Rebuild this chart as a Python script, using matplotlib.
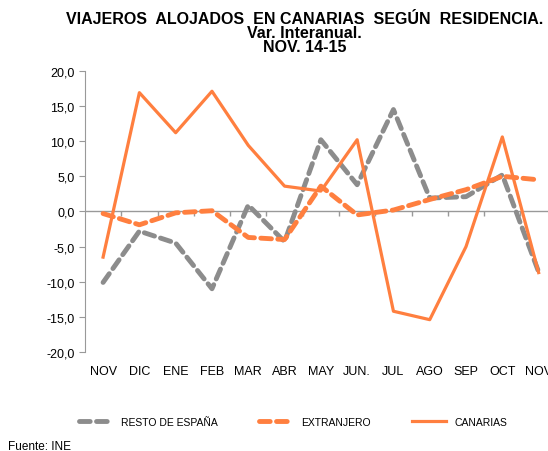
import matplotlib.pyplot as plt
import numpy as np
from matplotlib.ticker import FuncFormatter, MultipleLocator

plt.rcParams['font.family'] = ['Liberation Sans', 'DejaVu Sans']

meses = ['NOV', 'DIC', 'ENE', 'FEB', 'MAR', 'ABR', 'MAY', 'JUN.', 'JUL', 'AGO', 'SEP', 'OCT', 'NOV']
resto_espana = [-10.1, -2.8, -4.5, -11.0, 0.9, -4.3, 10.2, 3.8, 14.5, 1.9, 2.1, 5.2, -8.6]
extranjero = [-0.3, -1.9, -0.2, 0.1, -3.7, -4.0, 3.6, -0.5, 0.2, 1.7, 3.1, 5.0, 4.5]
canarias = [-6.5, 16.9, 11.2, 17.1, 9.4, 3.6, 2.9, 10.2, -14.2, -15.4, -5.0, 10.6, -8.7]

naranja = '#FF7F3F'
gris = '#8C8C8C'

fig = plt.figure(figsize=(5.48, 4.52), dpi=100)
ax = fig.add_axes([0.155, 0.219, 0.861, 0.622])

x = np.arange(len(meses))
ax.plot(x, resto_espana, color=gris, lw=3.5, linestyle=(0, (2.2, 1.3)),
        dash_capstyle='round', label='RESTO DE ESPAÑA')
ax.plot(x, extranjero, color=naranja, lw=3.5, linestyle=(0, (2.2, 1.3)),
        dash_capstyle='round', label='EXTRANJERO')
ax.plot(x, canarias, color=naranja, lw=2.3, label='CANARIAS')

ax.set_ylim(-20, 20)
ax.set_xlim(-0.5, len(meses) - 0.5)
ax.yaxis.set_major_locator(MultipleLocator(5))
ax.yaxis.set_major_formatter(FuncFormatter(lambda v, p: f'{v:.1f}'.replace('.', ',')))

# linea del cero con marcas entre categorias
ax.axhline(0, color='#999999', lw=1, zorder=1)
ax.vlines(np.arange(0.5, len(meses) - 0.5), -0.6, 0, color='#999999', lw=1, zorder=1)

for s in ['top', 'right', 'bottom']:
    ax.spines[s].set_visible(False)
ax.spines['left'].set_color('#999999')
ax.tick_params(axis='y', colors='#999999', labelcolor='black', labelsize=9, length=4)
ax.set_xticks(x)
ax.set_xticklabels(meses)
ax.tick_params(axis='x', length=0, labelsize=9, pad=9)

fig.text(0.556, 0.973, 'VIAJEROS  ALOJADOS  EN CANARIAS  SEGÚN  RESIDENCIA.\nVar. Interanual.\nNOV. 14-15',
         ha='center', va='top', fontsize=11.5, fontweight='bold', linespacing=0.92)

fig.legend(loc='center', bbox_to_anchor=(0.535, 0.064), ncol=3, frameon=False,
           fontsize=7.5, handlelength=3.2, columnspacing=4, handletextpad=0.8)

fig.text(0.015, -0.002, 'Fuente: INE', fontsize=8.5, ha='left', va='bottom')

fig.savefig('out.png', dpi=100)
